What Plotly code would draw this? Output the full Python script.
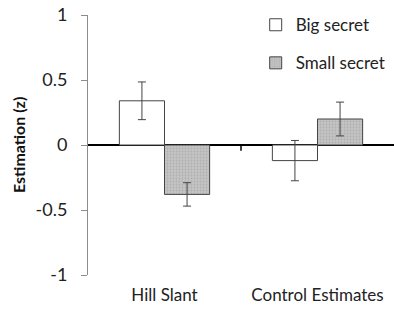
import plotly.graph_objects as go

categories = ["Hill Slant", "Control Estimates"]
big_values = [0.34, -0.12]
big_errors = [0.145, 0.155]
small_values = [-0.38, 0.20]
small_errors = [0.09, 0.13]
y_ticks = [-1, -0.5, 0, 0.5, 1]
y_tick_labels = ["-1", "-0.5", "0", "0.5", "1"]
y_title = "Estimation (z)"

FONT = "Lato"

fig = go.Figure()
fig.add_trace(go.Bar(
    x=categories, y=big_values, name="Big secret", legendgroup="a",
    marker=dict(color="white", line=dict(color="#444444", width=1)),
    error_y=dict(type="data", array=big_errors, color="#444444", thickness=1, width=4),
))
fig.add_trace(go.Bar(
    x=categories, y=small_values, name="Small secret", legendgroup="b",
    marker=dict(color="#b5b5b5", line=dict(color="#444444", width=1),
                pattern=dict(shape=".", fgcolor="#9a9a9a", bgcolor="#c4c4c4", size=3, solidity=0.3)),
    error_y=dict(type="data", array=small_errors, color="#444444", thickness=1, width=4),
))

fig.add_shape(type="line", xref="x", yref="y", x0=0.5, x1=0.5, y0=0, y1=-0.045,
              line=dict(color="black", width=1.5))

fig.add_annotation(text="<b>" + y_title + "</b>", xref="paper", yref="paper",
                   x=-70 / 306, y=0.5, xanchor="center", yanchor="middle",
                   textangle=-90, showarrow=False,
                   font=dict(family=FONT, size=16, color="#111111"))

fig.update_layout(
    width=394, height=315,
    margin=dict(l=88, r=0, t=15, b=40, autoexpand=False),
    plot_bgcolor="white", paper_bgcolor="white",
    barmode="group", bargap=0.41, bargroupgap=0,
    font=dict(family=FONT, size=16, color="#222222"),
    legend=dict(x=0.548, y=1.03, xanchor="left", yanchor="top", tracegroupgap=13,
                font=dict(family=FONT, size=17, color="#222222"), itemwidth=30,
                bgcolor="rgba(0,0,0,0)"),
    showlegend=True,
)
fig.update_xaxes(range=[-0.5, 1.5], showline=False, ticks="", showgrid=False,
                 automargin=False, ticklabelstandoff=8,
                 tickfont=dict(family=FONT, size=17, color="#222222"))
fig.update_yaxes(range=[-1, 1], tickvals=y_ticks, ticktext=y_tick_labels,
                 showline=True, linecolor="#8c8c8c", linewidth=1,
                 ticks="outside", ticklen=6, tickcolor="#8c8c8c",
                 showgrid=False, zeroline=True, zerolinecolor="black", zerolinewidth=1.5,
                 automargin=False, ticklabelstandoff=10, ticklabeloverflow="allow",
                 tickfont=dict(family=FONT, size=18, color="#222222"))

fig.write_html("out.html", config={"displayModeBar": False},
               post_script="document.body.style.margin='0';document.body.style.overflow='hidden';")
